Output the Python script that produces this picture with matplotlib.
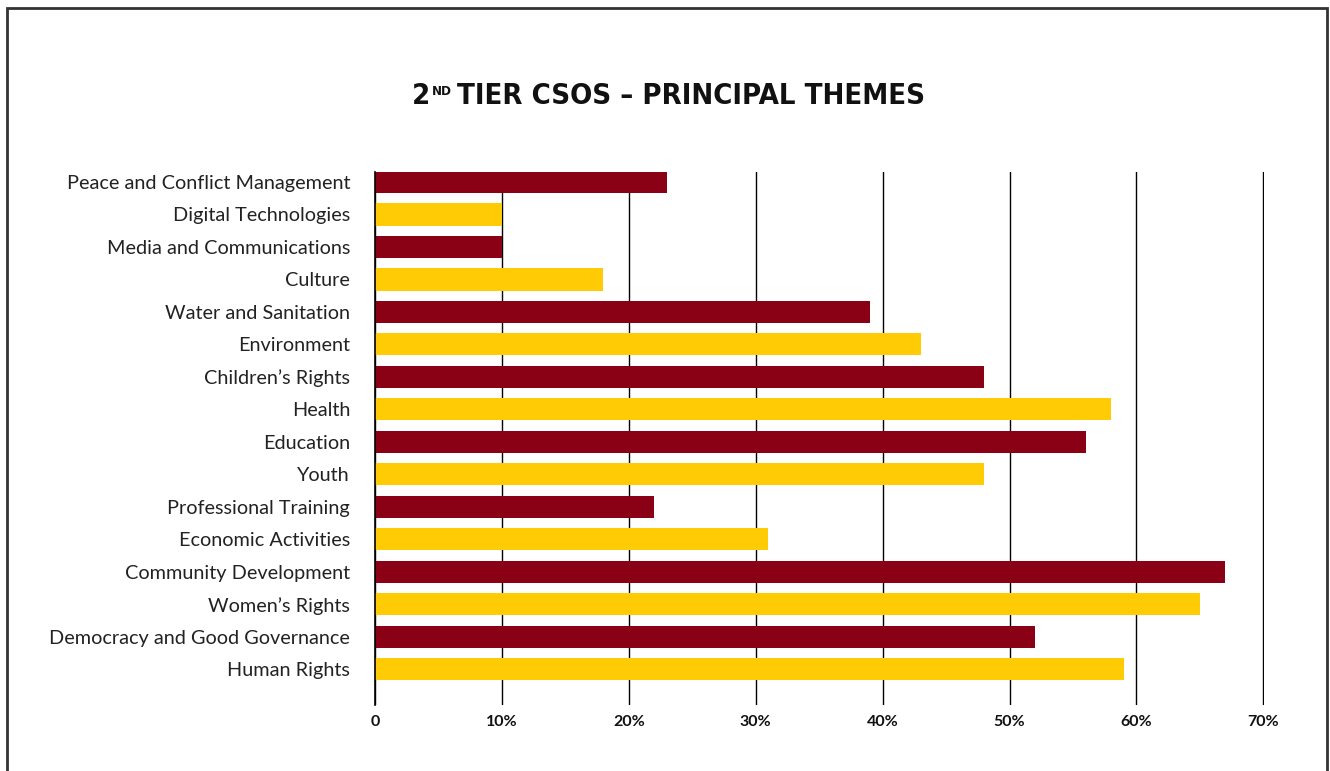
import matplotlib as mpl
mpl.use('Agg')
import matplotlib.pyplot as plt
from matplotlib.patches import Rectangle
from matplotlib.ticker import FixedLocator, FixedFormatter

# themes listed bottom to top, share of 2nd tier CSOs (%)
themes = ["Human Rights", "Democracy and Good Governance", "Women\u2019s Rights",
          "Community Development", "Economic Activities", "Professional Training",
          "Youth", "Education", "Health", "Children\u2019s Rights", "Environment",
          "Water and Sanitation", "Culture", "Media and Communications",
          "Digital Technologies", "Peace and Conflict Management"]
shares = [59, 52, 65, 67, 31, 22, 48, 56, 58, 48, 43, 39, 18, 10, 10, 23]
xticks = [0, 10, 20, 30, 40, 50, 60, 70]
xtick_labels = ["0", "10%", "20%", "30%", "40%", "50%", "60%", "70%"]

red = "#8a0015"
yellow = "#ffcb05"
colors = [yellow if i % 2 == 0 else red for i in range(len(themes))]

label_font = "Lato"
title_font = "DejaVu Sans"

fig = plt.figure(figsize=(13.3, 7.71), dpi=100)
ax = fig.add_axes([0.282, 0.0856, 0.6684, 0.6914])

ypos = list(range(len(themes)))
ax.barh(ypos, shares, height=0.68, color=colors, zorder=3)

ax.set_xlim(0, 70.05)
ax.set_ylim(-1.1, len(themes) - 1 + 0.31)
ax.xaxis.set_major_locator(FixedLocator(xticks))
ax.xaxis.set_major_formatter(FixedFormatter(xtick_labels))
ax.set_yticks(ypos)
ax.set_yticklabels(themes, fontfamily=label_font, fontsize=14.3, color="#222222")
for lbl in ax.get_xticklabels():
    lbl.set_fontfamily(label_font)
    lbl.set_fontweight("bold")
    lbl.set_fontsize(11.5)
    lbl.set_color("#111111")
ax.tick_params(axis="both", length=0)
ax.tick_params(axis="y", pad=18)
ax.tick_params(axis="x", pad=7)

ax.grid(axis="x", color="black", linewidth=1.0, zorder=1)
for side in ["top", "right", "bottom"]:
    ax.spines[side].set_visible(False)
ax.spines["left"].set_color("black")
ax.spines["left"].set_linewidth(1.2)
ax.spines["left"].set_zorder(4)

# frame around the whole figure (open at the bottom)
fig.patches.append(Rectangle((7 / 1330, -0.1), (1327 - 7) / 1330, 1.1 - 8 / 771,
                             transform=fig.transFigure, fill=False,
                             edgecolor="#333333", linewidth=2))

# title with superscript ordinal, laid out piece by piece then centred
fig.canvas.draw()
renderer = fig.canvas.get_renderer()
W = fig.bbox.width
ty = 1 - 104 / 771
tkw = dict(fontfamily=title_font, fontweight="bold", fontstretch="condensed",
           color="#111111", va="baseline")
t1 = fig.text(0, ty, "2", fontsize=21, **tkw)
x1 = t1.get_window_extent(renderer).x1 / W + 2 / 1330
t2 = fig.text(x1, ty + 9 / 771, "ND", fontsize=9.5, **tkw)
x2 = t2.get_window_extent(renderer).x1 / W + 5 / 1330
t3 = fig.text(x2, ty, "TIER CSOS \u2013 PRINCIPAL THEMES", fontsize=21, **tkw)
total = t3.get_window_extent(renderer).x1 / W
shift = 668 / 1330 - total / 2
for t in (t1, t2, t3):
    x, y = t.get_position()
    t.set_position((x + shift, y))

plt.savefig("out.png", dpi=100)
